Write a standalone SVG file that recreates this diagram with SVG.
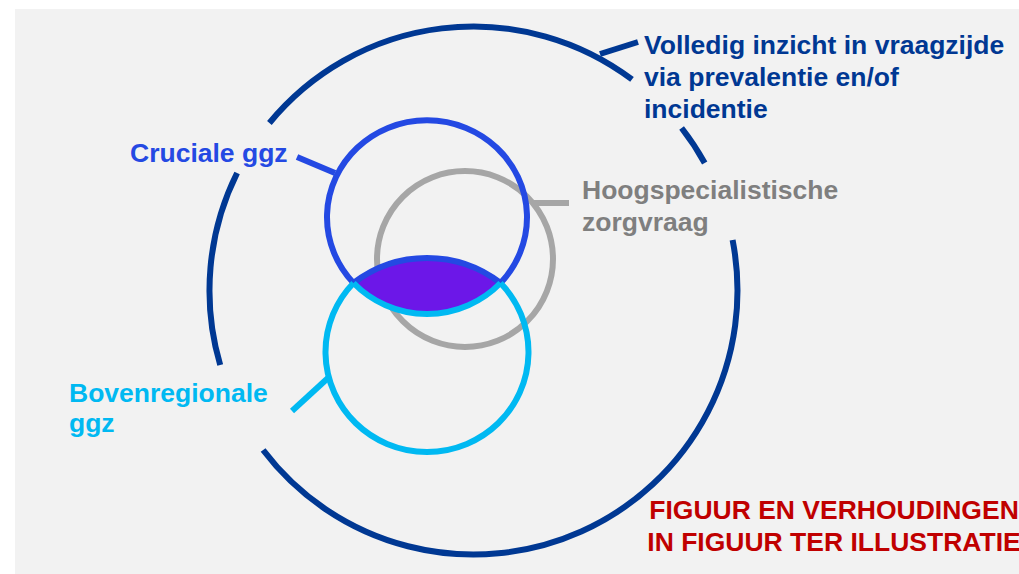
<svg xmlns="http://www.w3.org/2000/svg" width="1019" height="574" viewBox="0 0 1019 574">
<style>
text{font-family:"Liberation Sans",Arial,sans-serif;font-weight:bold;font-size:26.5px}
.ring{fill:none;stroke-width:6}
.lead{fill:none;stroke-width:6}
</style>
<rect x="0" y="0" width="1019" height="574" fill="#ffffff"/>
<rect x="15" y="9" width="1004" height="565" fill="#f2f2f2"/>
<g id="volledig">
<path class="ring" stroke="#003893" d="M269.4 123 A264 264 0 0 1 632 79.4 M681.6 128 A264 264 0 0 1 704.7 163 M732.6 240 A264 264 0 0 1 263.1 450 M220.2 365 A264 264 0 0 1 237.1 173"/>
<text fill="#003893"><tspan x="644" y="54">Volledig inzicht in vraagzijde</tspan><tspan x="644" y="86">via prevalentie en/of</tspan><tspan x="644" y="118">incidentie</tspan></text>
</g>
<g id="hoogspecialistisch">
<circle class="ring" stroke="#a6a6a6" cx="465" cy="259" r="88"/>
<text fill="#7f7f7f"><tspan x="582" y="199">Hoogspecialistische</tspan><tspan x="582" y="231">zorgvraag</tspan></text>
</g>
<g id="cruciaal">
<path class="ring" stroke="#2449e3" d="M353.5 283 A100 97 0 1 1 500.5 283"/>
<text fill="#2449e3" x="130" y="162">Cruciale ggz</text>
</g>
<g id="bovenregionaal">
<path class="ring" stroke="#00b9f2" d="M353.5 283 A101.5 100 0 1 0 500.5 283"/>
<text fill="#00b9f2"><tspan x="69" y="402">Bovenregionale</tspan><tspan x="69" y="432">ggz</tspan></text>
</g>
<g id="overlap">
<path fill="#6c17e8" d="M353.5 283 A120.5 120.5 0 0 1 500.5 283 A102.6 102.6 0 0 1 353.5 283 Z"/>
<path class="ring" stroke="#2449e3" d="M353.5 283 A120.5 120.5 0 0 1 500.5 283"/>
<path class="ring" stroke="#00b9f2" d="M500.5 283 A102.6 102.6 0 0 1 353.5 283"/>
</g>
<g id="connectors">
<line class="lead" stroke="#003893" x1="600" y1="54" x2="638" y2="42"/>
<line class="lead" stroke="#2449e3" x1="297" y1="157" x2="335" y2="173"/>
<line class="lead" stroke="#a6a6a6" x1="533" y1="203" x2="569" y2="203"/>
<line class="lead" stroke="#00b9f2" x1="292" y1="411" x2="328" y2="378"/>
</g>
<g id="note">
<text fill="#c00000" text-anchor="middle"><tspan x="834" y="519">FIGUUR EN VERHOUDINGEN</tspan><tspan x="834" y="551">IN FIGUUR TER ILLUSTRATIE</tspan></text>
</g>
</svg>
